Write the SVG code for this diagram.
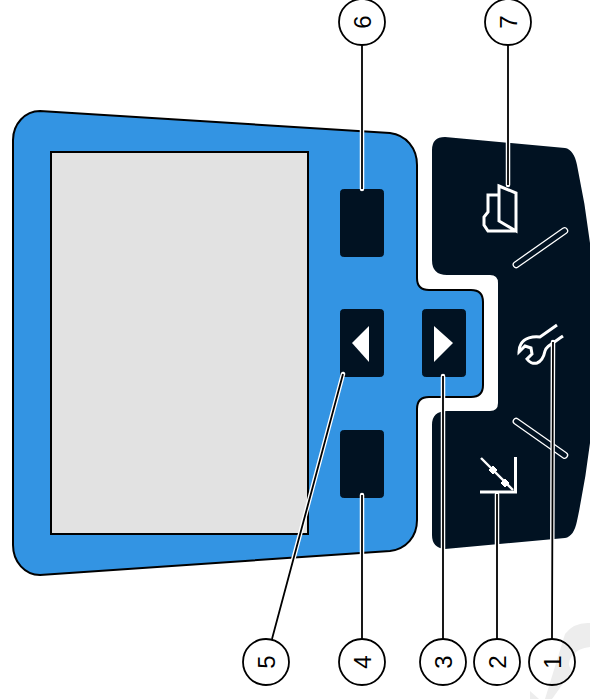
<svg xmlns="http://www.w3.org/2000/svg" width="590" height="699" viewBox="0 0 590 699">
<defs><style>
.btn{fill:#011222;stroke:#011222;stroke-width:1}
.ic{fill:none;stroke:#fff;stroke-width:3}
.slot{fill:none;stroke:#fff;stroke-width:1.3}
.halo{fill:none;stroke:#fff;stroke-width:4.5;stroke-linecap:round}
.ln{fill:none;stroke:#000;stroke-width:1.8}
.c{fill:none;stroke:#000;stroke-width:1.8}
.t{font-family:"Liberation Sans",Arial,sans-serif;font-size:24px;fill:#000;text-anchor:middle}
</style></defs>
<rect width="590" height="699" fill="#fff"/>
<path d="M545 699L565 634Q574 622 590 623V647Q578 648 572 656Q566 664 572 671L552 699Z" fill="#ededed"/>
<path d="M530 691L539 699H530Z" fill="#ededed"/>
<g id="panel">
<path d="M40 111L390 133C406 135 417 148 417 165V278Q417 290 429 290H471Q483 290 483 302V385Q483 397 471 397H429Q417 397 417 409V520C417 537 406 549 390 551L40 575C25 575 13 562 13 545V140C13 124 25 111 40 111Z" fill="#3394e3" stroke="#000" stroke-width="2"/>
</g>
<g id="screen"><rect x="51" y="152" width="257" height="382" fill="#e2e2e2" stroke="#000" stroke-width="2"/></g>
<g id="softkeys">
<path d="M445 137L565 148C571 149 575 155 577 165Q615 343 577 521C575 531 571 537 565 538L445 549Q432 548 432 535V425Q432 411 447 411H490Q498 411 498 403V283Q498 275 490 275H447Q432 275 432 260V150Q432 137 445 137Z" fill="#011222"/>
<rect class="slot" x="508" y="245" width="65" height="6" rx="3" transform="rotate(-35 540 248)"/>
<rect class="slot" x="508" y="435" width="65" height="6" rx="3" transform="rotate(35 540 438)"/>
</g>
<g id="button-6"><rect class="btn" x="340.500" y="189.500" width="43" height="67" rx="3"/></g>
<g id="button-5"><rect class="btn" x="340.500" y="309.500" width="43" height="67" rx="3"/><path d="M369 326V362L352 343Z" fill="#fff"/></g>
<g id="button-3"><rect class="btn" x="422.500" y="309.500" width="43" height="67" rx="3"/><path d="M434 326V362L453 343Z" fill="#fff"/></g>
<g id="button-4"><rect class="btn" x="340.500" y="430.500" width="43" height="67" rx="3"/></g>
<g id="icon-7"><path class="ic" d="M499 186L516 193V231L499 221V186ZM499 195H488V212L484 217V225L488 231H516"/></g>
<g id="icon-1"><path class="ic" d="M557 325L540 337C533 336 524 338 521 344C519 347 519 350 519 352L525 346L531 348L532 354L527 359C529 362 533 364 537 363C542 361 544 356 545 351C546 347 550 345 563 336"/></g>
<g id="icon-2"><path class="ic" d="M515.500 457V492H480"/><path d="M481 458L513 490" fill="none" stroke="#fff" stroke-width="2.400"/><path d="M493 466L497 470L493 474L489 470ZM505 479L509 483L505 487L501 483Z" fill="#fff" stroke="#fff"/></g>
<g id="connectors">
<path class="halo" d="M508 70V185M362 70V189M552 620L553 342M497 620V494M443 620V376M362 620V495M277 620L343 374"/>
<path class="ln" d="M508 45V185M362 45V189M552 639L553 342M497 639V494M443 639V376M362 639V495M272 639L343 374"/>
</g>
<g id="callout-6"><circle class="c" cx="362" cy="22" r="23"/><text class="t" transform="translate(370.500 22) rotate(-90)">6</text></g>
<g id="callout-7"><circle class="c" cx="508" cy="22" r="23"/><text class="t" transform="translate(516.500 22) rotate(-90)">7</text></g>
<g id="callout-5"><circle class="c" cx="266" cy="662" r="23"/><text class="t" transform="translate(274.500 662) rotate(-90)">5</text></g>
<g id="callout-4"><circle class="c" cx="362" cy="662" r="23"/><text class="t" transform="translate(370.500 662) rotate(-90)">4</text></g>
<g id="callout-3"><circle class="c" cx="443" cy="662" r="23"/><text class="t" transform="translate(451.500 662) rotate(-90)">3</text></g>
<g id="callout-2"><circle class="c" cx="497" cy="662" r="23"/><text class="t" transform="translate(505.500 662) rotate(-90)">2</text></g>
<g id="callout-1"><circle class="c" cx="552" cy="662" r="23"/><text class="t" transform="translate(560.500 662) rotate(-90)">1</text></g>
</svg>
